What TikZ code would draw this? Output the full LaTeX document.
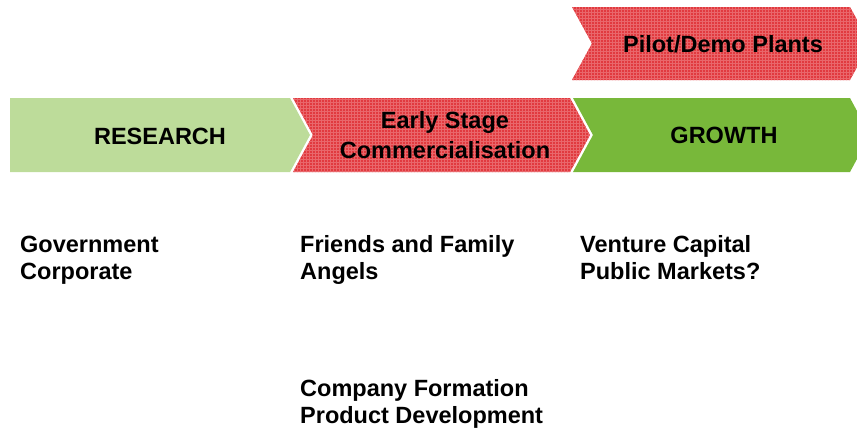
\documentclass[tikz,border=0pt]{standalone}
\usepackage{fontspec}
\setmainfont{Liberation Sans}
\usetikzlibrary{patterns}
\definecolor{lgreen}{HTML}{BDDC9A}
\definecolor{dgreen}{HTML}{78B83A}
\definecolor{chkred}{HTML}{E13A3F}
\definecolor{chkline}{HTML}{E9676B}
\tikzset{
  lightstage/.style={fill=lgreen, draw=none},
  growstage/.style={fill=dgreen, draw=none},
  redstage/.style={fill=chkred, draw=none, postaction={pattern=grid, pattern color=chkline}},
  lbl/.style={font=\bfseries\fontsize{23.5}{30}\selectfont, inner sep=0pt, align=center},
  lst/.style={font=\bfseries\fontsize{23.5}{27}\selectfont, inner sep=0pt, align=left, anchor=base west}
}
\begin{document}
\begin{tikzpicture}[x=1pt,y=-1pt]
\useasboundingbox (0,0) rectangle (857,432);
\begin{scope}
\clip (0,0) rectangle (857,432);
% stages
\path[lightstage] (10,98) -- (290,98) -- (310,135) -- (290,172) -- (10,172) -- cycle;
\path[redstage] (293,98) -- (570,98) -- (590,135) -- (570,172) -- (293,172) -- (313,135) -- cycle;
\path[growstage] (573,98) -- (850,98) -- (870,135) -- (850,172) -- (573,172) -- (593,135) -- cycle;
\path[redstage] (572,7) -- (850,7) -- (870,43.5) -- (850,80) -- (572,80) -- (592,43.5) -- cycle;
\end{scope}
% stage labels
\node[lbl, anchor=base] (research) at (160,144) {RESEARCH};
\node[lbl, anchor=base] (early) at (445,158) {Early Stage\\Commercialisation};
\node[lbl, anchor=base] (growth) at (724,143) {GROWTH};
\node[lbl, anchor=base] (pilot) at (723,52) {Pilot/Demo Plants};
% lists
\node[lst] (gov) at (20,279) {Government\\Corporate};
\node[lst] (friends) at (300,279) {Friends and Family\\Angels};
\node[lst] (vc) at (580,279) {Venture Capital\\Public Markets?};
\node[lst] (company) at (300,423) {Company Formation\\Product Development};
\end{tikzpicture}
\end{document}
